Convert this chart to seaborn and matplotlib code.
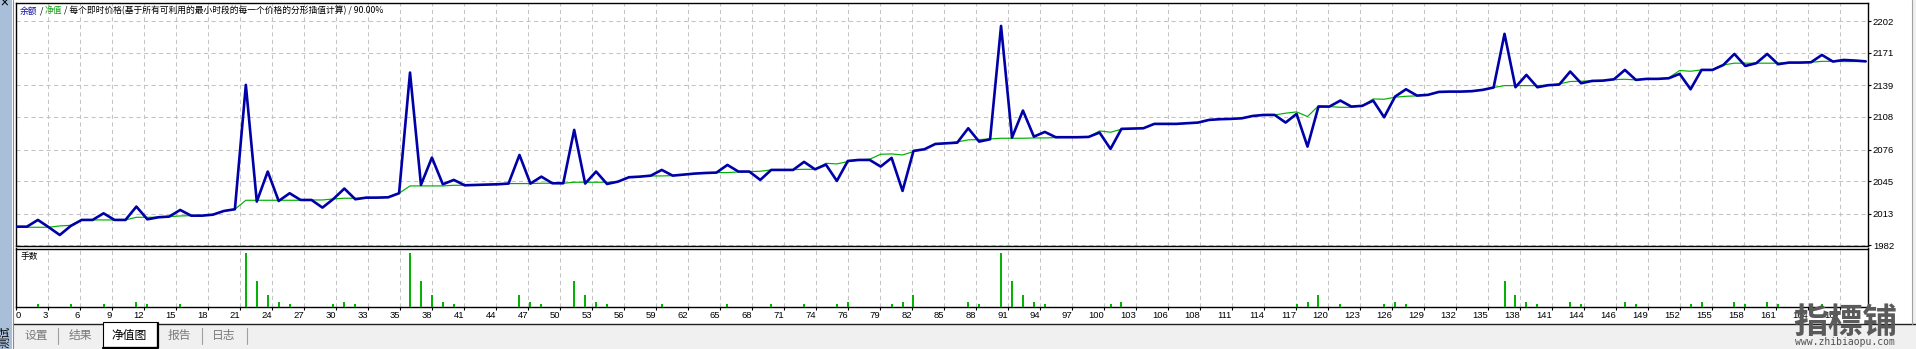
import numpy as np
import pandas as pd
import matplotlib
matplotlib.use("Agg")
import matplotlib.pyplot as plt
import seaborn as sns
from matplotlib.patches import Rectangle
from matplotlib.lines import Line2D

# ---------------- data ----------------
balance = [
    2000.3, 2000.3, 2006.9, 1999.7, 1992.1, 2001.0, 2006.9, 2006.9, 2013.4, 2006.9,
    2006.9, 2020.0, 2007.5, 2009.5, 2010.2, 2016.7, 2011.1, 2011.1, 2012.1, 2015.7,
    2017.4, 2139.5, 2024.9, 2054.4, 2025.5, 2033.1, 2026.5, 2026.5, 2019.0, 2027.5,
    2037.7, 2027.2, 2028.8, 2028.8, 2029.1, 2033.1, 2151.6, 2041.3, 2068.1, 2041.9,
    2046.2, 2040.9, 2041.3, 2041.6, 2041.9, 2042.6, 2070.7, 2042.6, 2049.4, 2042.9,
    2042.9, 2095.3, 2042.6, 2054.4, 2042.2, 2044.5, 2048.8, 2049.4, 2050.4, 2056.0,
    2050.4, 2051.4, 2052.4, 2053.0, 2053.4, 2060.9, 2054.4, 2054.4, 2046.2, 2056.0,
    2056.0, 2056.0, 2063.9, 2056.6, 2061.2, 2045.2, 2064.8, 2065.8, 2065.8, 2059.3,
    2067.8, 2035.4, 2074.7, 2076.3, 2081.5, 2082.2, 2082.8, 2096.9, 2083.8, 2086.1,
    2197.4, 2087.7, 2114.3, 2088.7, 2093.3, 2088.1, 2088.1, 2088.1, 2088.4, 2092.7,
    2076.6, 2096.3, 2096.6, 2096.9, 2101.2, 2101.2, 2101.2, 2101.8, 2102.5, 2105.1,
    2105.8, 2106.1, 2106.7, 2109.0, 2110.0, 2110.0, 2102.5, 2111.0, 2078.9, 2118.2,
    2118.2, 2124.1, 2118.2, 2118.9, 2124.1, 2107.7, 2128.0, 2135.2, 2129.0, 2129.7,
    2132.6, 2132.9, 2132.9, 2133.3, 2134.6, 2136.9, 2189.6, 2137.2, 2149.3, 2137.2,
    2139.2, 2139.8, 2152.6, 2141.1, 2143.4, 2143.7, 2145.0, 2154.2, 2144.4, 2145.4,
    2145.4, 2146.0, 2150.3, 2135.2, 2154.2, 2154.2, 2159.1, 2169.9, 2158.1, 2160.8,
    2169.9, 2159.8, 2161.4, 2161.4, 2161.7, 2168.9, 2162.4, 2164.0, 2163.4, 2162.6,
]
equity = [
    1999.7, 1999.7, 1999.7, 1999.7, 2001.0, 2001.6, 2006.9, 2006.9, 2006.9, 2006.9,
    2006.9, 2009.5, 2009.5, 2009.5, 2010.2, 2010.8, 2011.1, 2011.1, 2012.1, 2015.7,
    2017.4, 2026.2, 2026.2, 2026.2, 2026.2, 2026.2, 2026.2, 2026.5, 2026.5, 2027.5,
    2028.2, 2028.2, 2028.2, 2028.8, 2029.1, 2033.1, 2040.3, 2040.3, 2040.3, 2040.3,
    2040.9, 2040.9, 2041.3, 2041.6, 2041.9, 2042.6, 2042.6, 2042.6, 2042.9, 2042.9,
    2042.9, 2043.9, 2043.9, 2043.9, 2043.9, 2044.5, 2048.8, 2049.4, 2050.1, 2050.1,
    2050.4, 2051.4, 2052.4, 2053.0, 2053.4, 2053.4, 2054.0, 2054.4, 2054.7, 2056.0,
    2056.0, 2056.3, 2056.6, 2056.6, 2062.5, 2061.9, 2064.2, 2065.8, 2066.5, 2071.4,
    2071.7, 2070.7, 2074.0, 2076.3, 2081.5, 2082.2, 2083.5, 2085.5, 2085.8, 2086.4,
    2087.1, 2087.1, 2087.1, 2087.4, 2087.4, 2087.7, 2088.1, 2088.1, 2088.4, 2094.3,
    2093.0, 2095.9, 2096.6, 2096.9, 2101.2, 2101.2, 2101.2, 2101.8, 2102.5, 2105.1,
    2105.8, 2106.1, 2106.7, 2109.0, 2110.0, 2110.0, 2111.7, 2113.0, 2108.4, 2118.9,
    2118.2, 2117.5, 2117.5, 2118.9, 2125.7, 2125.4, 2127.4, 2128.3, 2128.7, 2129.7,
    2132.6, 2132.9, 2132.9, 2133.3, 2134.6, 2136.9, 2138.8, 2138.8, 2138.8, 2138.8,
    2139.2, 2140.5, 2142.8, 2143.1, 2143.4, 2143.7, 2144.7, 2145.0, 2144.4, 2145.4,
    2145.4, 2146.4, 2153.6, 2152.9, 2154.2, 2154.5, 2159.1, 2160.8, 2160.8, 2160.8,
    2160.8, 2160.8, 2161.4, 2161.4, 2161.7, 2162.6, 2162.6, 2162.4, 2162.4, 2162.6,
]
lot_trade = [2, 5, 8, 11, 12, 15,
             21, 22, 23, 24, 25, 29, 30, 31,
             36, 37, 38, 39, 40, 46, 47, 48,
             51, 52, 53, 54, 59, 65, 69, 72,
             75, 76, 80, 81, 82, 87, 88,
             90, 91, 92, 93, 94, 100, 101,
             117, 118, 119, 121, 125, 126, 127,
             136, 137, 138, 139, 142, 143, 147, 148,
             153, 154, 157, 158, 160, 161, 165]
lot_size = [0.01, 0.01, 0.01, 0.02, 0.01, 0.01,
            0.23, 0.11, 0.05, 0.02, 0.01, 0.01, 0.02, 0.01,
            0.23, 0.11, 0.05, 0.02, 0.01, 0.05, 0.02, 0.01,
            0.11, 0.05, 0.02, 0.01, 0.01, 0.01, 0.01, 0.01,
            0.01, 0.02, 0.01, 0.02, 0.05, 0.02, 0.01,
            0.23, 0.11, 0.05, 0.02, 0.01, 0.01, 0.02,
            0.01, 0.02, 0.05, 0.01, 0.01, 0.02, 0.01,
            0.11, 0.05, 0.02, 0.01, 0.02, 0.01, 0.02, 0.01,
            0.01, 0.02, 0.02, 0.01, 0.02, 0.01, 0.01]
xtick_labels = ["0", "3", "6", "9", "12", "15", "18", "21", "24", "27", "30", "33", "35",
                "38", "41", "44", "47", "50", "53", "56", "59", "62", "65", "68", "71",
                "74", "76", "79", "82", "85", "88", "91", "94", "97", "100", "103", "106",
                "108", "111", "114", "117", "120", "123", "126", "129", "132", "135",
                "138", "141", "144", "146", "149", "152", "155", "158", "161", "164", "167"]
ytick_labels = ["1982", "2013", "2045", "2076", "2108", "2139", "2171", "2202"]
title_parts = [("余额", "#1010A0"), (" / ", "#000000"), ("净值", "#10A010"),
               (" / 每个即时价格(基于所有可利用的最小时段的每一个价格的分形插值计算) / 90.00%", "#000000")]
tabs = ["设置", "结果", "净值图", "报告", "日志"]

# ---------------- style ----------------
sns.set_theme(style="white")
plt.rcParams['font.family'] = ['Noto Sans CJK SC', 'DejaVu Sans']
plt.rcParams['lines.scale_dashes'] = False
plt.rcParams['axes.unicode_minus'] = False

BLUE = "#0000A8"
GREEN = "#00B000"
GRID = "#C4C4C4"
NUMFONT = ['Liberation Sans', 'DejaVu Sans']

W, H = 1916, 349
fig = plt.figure(figsize=(W / 100, H / 100), dpi=100)
fig.patch.set_facecolor('white')


def fx(px):
    return px / W


def fy(py):
    return 1 - py / H


PX_PER_TRADE = 10.945
GRID_PX = 32.0
L, R = 16, 1868
xmax = (R - L) / PX_PER_TRADE

ax = fig.add_axes([fx(L), fy(246), fx(R - L), (246 - 3) / H])
axl = fig.add_axes([fx(L), fy(306.7), fx(R - L), (306.7 - 248.5) / H])

df = pd.DataFrame({"trade": np.arange(len(balance)), "balance": balance, "equity": equity})
sns.lineplot(data=df, x="trade", y="equity", ax=ax, color=GREEN, linewidth=0.85, zorder=3, legend=False)
sns.lineplot(data=df, x="trade", y="balance", ax=ax, color=BLUE, linewidth=1.9, zorder=4, legend=False)

xt = [k * GRID_PX / PX_PER_TRADE for k in range(len(xtick_labels))]
yt = [float(v) for v in ytick_labels]

for a in (ax, axl):
    a.set_xlim(0, xmax)
    a.set_xlabel("")
    a.set_ylabel("")
    a.set_facecolor("white")
    a.set_axisbelow(True)
    for s in a.spines.values():
        s.set_color("black")
        s.set_linewidth(1.0)
        s.set_visible(True)
    a.set_xticks(xt)
    a.grid(axis="x", color=GRID, linewidth=0.75, linestyle=(0, (3.0, 2.4)))

ax.set_ylim(1981.3, 2219.9)
ax.set_yticks(yt)
ax.set_yticklabels(ytick_labels)
ax.grid(axis="y", color=GRID, linewidth=0.75, linestyle=(0, (3.0, 2.4)))
ax.tick_params(axis="x", length=0, labelbottom=False, bottom=False)
ax.tick_params(axis="y", left=False, labelleft=False, right=True, labelright=True,
               direction="out", length=2.3, width=0.8, pad=1.2, labelsize=6.8, colors="black")
for lbl in ax.get_yticklabels():
    lbl.set_family(NUMFONT)

axl.vlines(lot_trade, 0, lot_size, color=GREEN, linewidth=1.4, zorder=3)
axl.set_ylim(0, 0.23 / 0.925)
axl.set_yticks([])
axl.set_xticklabels(xtick_labels)
axl.tick_params(axis="x", bottom=True, direction="out", length=2.3, width=0.8, pad=0.8,
                labelsize=6.8, colors="black")
for i, lbl in enumerate(axl.get_xticklabels()):
    lbl.set_family(NUMFONT)
    lbl.set_ha("left" if i == 0 else "right")

# title pieces
fs = 6.3
t = fig.text(fx(20), fy(11), title_parts[0][0], color=title_parts[0][1], fontsize=fs,
             ha="left", va="center")
for txt, col in title_parts[1:]:
    t = ax.annotate(txt, xy=(1, 0), xycoords=t, va="bottom", ha="left", fontsize=fs, color=col)

fig.text(fx(21), fy(257), "手数", fontsize=fs, ha="left", va="center", color="black")

# ---------------- window chrome ----------------
fig.patches.append(Rectangle((fx(12.5), 0), fx(W - 12.5), (349 - 324) / H, transform=fig.transFigure,
                             facecolor="#F0F0F0", edgecolor="none", zorder=0))
fig.lines.append(Line2D([fx(12.5), 1], [fy(324), fy(324)], transform=fig.transFigure,
                        color="#202020", linewidth=1.0))
# active tab
fig.patches.append(Rectangle((fx(102.5), fy(347)), fx(157 - 102.5), (347 - 322) / H,
                             transform=fig.transFigure, facecolor="white", edgecolor="black",
                             linewidth=0.8, zorder=2))
fig.lines.append(Line2D([fx(103), fx(157.5), fx(157.5)], [fy(347.5), fy(347.5), fy(323)],
                        transform=fig.transFigure, color="black", linewidth=1.6, zorder=3))
tab_x = [36, 80, 129.5, 179.5, 224]
for name, xc in zip(tabs, tab_x):
    fig.text(fx(xc), fy(335), name, fontsize=8.5, ha="center", va="center",
             color="black" if name == "净值图" else "#7A7A7A", zorder=4)
for xs in [58, 202, 247]:
    fig.lines.append(Line2D([fx(xs), fx(xs)], [fy(328), fy(344)], transform=fig.transFigure,
                            color="#A0A0A0", linewidth=0.8))

# left docking strip
fig.patches.append(Rectangle((0, 0), fx(11.5), 1, transform=fig.transFigure,
                             facecolor="#A9BED8", edgecolor="none", zorder=1))
fig.lines.append(Line2D([fx(12.5), fx(12.5)], [0, 1], transform=fig.transFigure,
                        color="#8A8A8A", linewidth=0.8))
fig.text(fx(4), fy(3), "×", fontsize=7, fontweight="bold", ha="center", va="center", color="black", zorder=5)
fig.text(fx(5.5), fy(337), "测试", fontsize=8, rotation=90, ha="center", va="center", color="black", zorder=5)

# right border
fig.patches.append(Rectangle((fx(1912), fy(324)), fx(4), 324 / H, transform=fig.transFigure,
                             facecolor="#F0F0F0", edgecolor="none", zorder=0))
fig.lines.append(Line2D([fx(1911.7), fx(1911.7)], [fy(324), 1], transform=fig.transFigure,
                        color="#A0A0A0", linewidth=0.8))

# watermark
fig.text(fx(1845), fy(323), "指標铺", fontsize=25, fontweight="bold", ha="center", va="center",
         color="#5A5A5A", zorder=10)
fig.text(fx(1845), fy(342), "www.zhibiaopu.com", fontsize=7.0, family="DejaVu Sans Mono",
         ha="center", va="center", color="#505050", zorder=10)

fig.savefig("out.png", dpi=100)
